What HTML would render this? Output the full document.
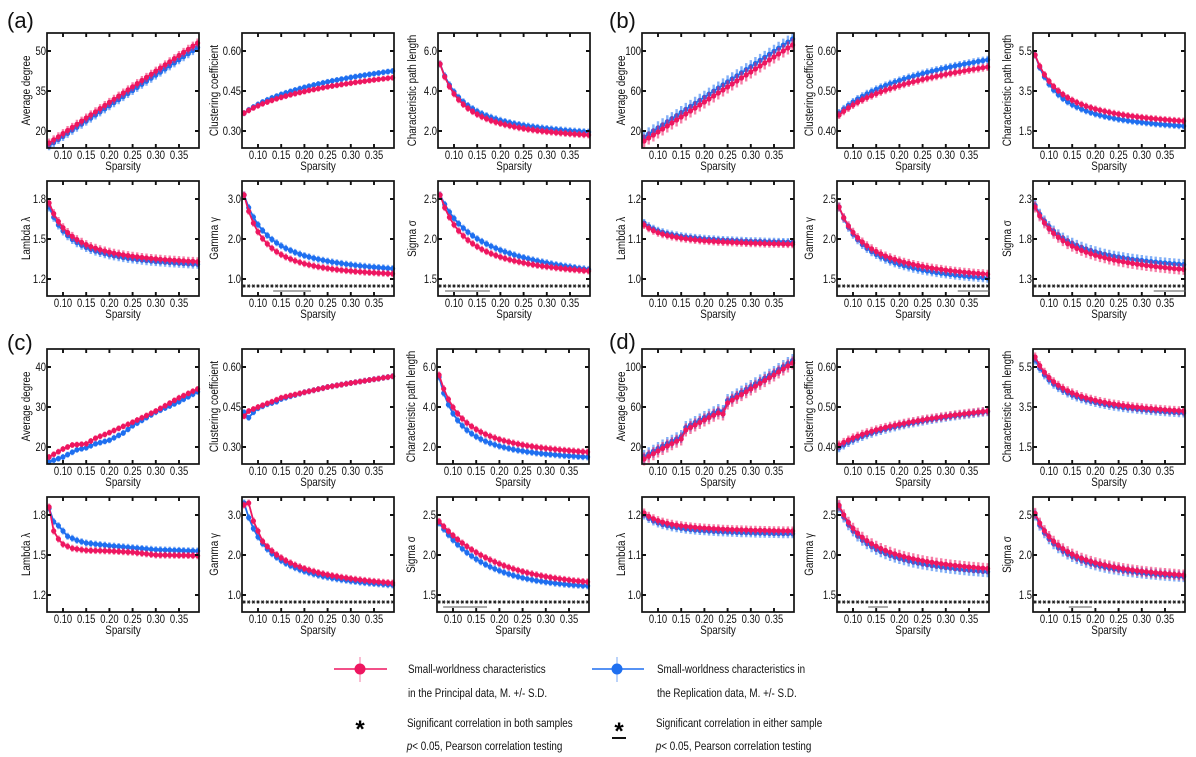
<!DOCTYPE html>
<html><head><meta charset="utf-8">
<style>
html,body{margin:0;padding:0;background:#fff}
svg{display:block}
text{font-family:"Liberation Sans",Arial,sans-serif;font-size:11.5px;fill:#111;transform-box:fill-box;transform:scaleX(.82)}
.c{text-anchor:middle;transform-origin:50% 50%}
.e{text-anchor:end;transform-origin:100% 50%}
.l{font-size:12px}
.s{transform-origin:0 50%;font-size:12px}
.n{font-size:22px;transform:none;fill:#111}
.st{font-size:24px;font-weight:bold;transform:none;text-anchor:middle;fill:#000}
</style></head>
<body>
<svg id="sv" width="1196" height="757" viewBox="0 0 1196 757" xmlns="http://www.w3.org/2000/svg">
<rect width="1196" height="757" fill="#fff"/>
<g id="geo"></g>

<text class="n" x="7" y="28">(a)</text>
<text class="n" x="609" y="28">(b)</text>
<text class="n" x="7" y="350">(c)</text>
<text class="n" x="609" y="349">(d)</text>

<!-- Panel a -->
<g transform="translate(47,33)">
<text class="e" x="-1" y="22">50</text><text class="e" x="-1" y="62">35</text><text class="e" x="-1" y="102">20</text>
<text class="c" x="16" y="126">0.10</text><text class="c" x="39.2" y="126">0.15</text><text class="c" x="62.4" y="126">0.20</text><text class="c" x="85.6" y="126">0.25</text><text class="c" x="108.8" y="126">0.30</text><text class="c" x="132" y="126">0.35</text>
<text class="c l" x="76" y="137">Sparsity</text>
<g transform="translate(-17,57.5) rotate(-90)"><text class="c l">Average degree</text></g>
</g>
<g transform="translate(242,33)">
<text class="e" x="-1" y="22">0.60</text><text class="e" x="-1" y="62">0.45</text><text class="e" x="-1" y="102">0.30</text>
<text class="c" x="16" y="126">0.10</text><text class="c" x="39.2" y="126">0.15</text><text class="c" x="62.4" y="126">0.20</text><text class="c" x="85.6" y="126">0.25</text><text class="c" x="108.8" y="126">0.30</text><text class="c" x="132" y="126">0.35</text>
<text class="c l" x="76" y="137">Sparsity</text>
<g transform="translate(-24,57.5) rotate(-90)"><text class="c l">Clustering coefficient</text></g>
</g>
<g transform="translate(438,33)">
<text class="e" x="-1" y="22">6.0</text><text class="e" x="-1" y="62">4.0</text><text class="e" x="-1" y="102">2.0</text>
<text class="c" x="16" y="126">0.10</text><text class="c" x="39.2" y="126">0.15</text><text class="c" x="62.4" y="126">0.20</text><text class="c" x="85.6" y="126">0.25</text><text class="c" x="108.8" y="126">0.30</text><text class="c" x="132" y="126">0.35</text>
<text class="c l" x="76" y="137">Sparsity</text>
<g transform="translate(-22,57.5) rotate(-90)"><text class="c l">Characteristic path length</text></g>
</g>
<g transform="translate(47,181)">
<text class="e" x="-1" y="22">1.8</text><text class="e" x="-1" y="62">1.5</text><text class="e" x="-1" y="102">1.2</text>
<text class="c" x="16" y="126">0.10</text><text class="c" x="39.2" y="126">0.15</text><text class="c" x="62.4" y="126">0.20</text><text class="c" x="85.6" y="126">0.25</text><text class="c" x="108.8" y="126">0.30</text><text class="c" x="132" y="126">0.35</text>
<text class="c l" x="76" y="137">Sparsity</text>
<g transform="translate(-17,57.5) rotate(-90)"><text class="c l">Lambda λ</text></g>
</g>
<g transform="translate(242,181)">
<text class="e" x="-1" y="22">3.0</text><text class="e" x="-1" y="62">2.0</text><text class="e" x="-1" y="102">1.0</text>
<text class="c" x="16" y="126">0.10</text><text class="c" x="39.2" y="126">0.15</text><text class="c" x="62.4" y="126">0.20</text><text class="c" x="85.6" y="126">0.25</text><text class="c" x="108.8" y="126">0.30</text><text class="c" x="132" y="126">0.35</text>
<text class="c l" x="76" y="137">Sparsity</text>
<g transform="translate(-24,57.5) rotate(-90)"><text class="c l">Gamma γ</text></g>
</g>
<g transform="translate(438,181)">
<text class="e" x="-1" y="22">2.5</text><text class="e" x="-1" y="62">2.0</text><text class="e" x="-1" y="102">1.5</text>
<text class="c" x="16" y="126">0.10</text><text class="c" x="39.2" y="126">0.15</text><text class="c" x="62.4" y="126">0.20</text><text class="c" x="85.6" y="126">0.25</text><text class="c" x="108.8" y="126">0.30</text><text class="c" x="132" y="126">0.35</text>
<text class="c l" x="76" y="137">Sparsity</text>
<g transform="translate(-22,57.5) rotate(-90)"><text class="c l">Sigma σ</text></g>
</g>

<!-- Panel b -->
<g transform="translate(642,33)">
<text class="e" x="-1" y="22">100</text><text class="e" x="-1" y="62">60</text><text class="e" x="-1" y="102">20</text>
<text class="c" x="16" y="126">0.10</text><text class="c" x="39.2" y="126">0.15</text><text class="c" x="62.4" y="126">0.20</text><text class="c" x="85.6" y="126">0.25</text><text class="c" x="108.8" y="126">0.30</text><text class="c" x="132" y="126">0.35</text>
<text class="c l" x="76" y="137">Sparsity</text>
<g transform="translate(-17,57.5) rotate(-90)"><text class="c l">Average degree</text></g>
</g>
<g transform="translate(837,33)">
<text class="e" x="-1" y="22">0.60</text><text class="e" x="-1" y="62">0.50</text><text class="e" x="-1" y="102">0.40</text>
<text class="c" x="16" y="126">0.10</text><text class="c" x="39.2" y="126">0.15</text><text class="c" x="62.4" y="126">0.20</text><text class="c" x="85.6" y="126">0.25</text><text class="c" x="108.8" y="126">0.30</text><text class="c" x="132" y="126">0.35</text>
<text class="c l" x="76" y="137">Sparsity</text>
<g transform="translate(-24,57.5) rotate(-90)"><text class="c l">Clustering coefficient</text></g>
</g>
<g transform="translate(1033,33)">
<text class="e" x="-1" y="22">5.5</text><text class="e" x="-1" y="62">3.5</text><text class="e" x="-1" y="102">1.5</text>
<text class="c" x="16" y="126">0.10</text><text class="c" x="39.2" y="126">0.15</text><text class="c" x="62.4" y="126">0.20</text><text class="c" x="85.6" y="126">0.25</text><text class="c" x="108.8" y="126">0.30</text><text class="c" x="132" y="126">0.35</text>
<text class="c l" x="76" y="137">Sparsity</text>
<g transform="translate(-22,57.5) rotate(-90)"><text class="c l">Characteristic path length</text></g>
</g>
<g transform="translate(642,181)">
<text class="e" x="-1" y="22">1.2</text><text class="e" x="-1" y="62">1.1</text><text class="e" x="-1" y="102">1.0</text>
<text class="c" x="16" y="126">0.10</text><text class="c" x="39.2" y="126">0.15</text><text class="c" x="62.4" y="126">0.20</text><text class="c" x="85.6" y="126">0.25</text><text class="c" x="108.8" y="126">0.30</text><text class="c" x="132" y="126">0.35</text>
<text class="c l" x="76" y="137">Sparsity</text>
<g transform="translate(-17,57.5) rotate(-90)"><text class="c l">Lambda λ</text></g>
</g>
<g transform="translate(837,181)">
<text class="e" x="-1" y="22">2.5</text><text class="e" x="-1" y="62">2.0</text><text class="e" x="-1" y="102">1.5</text>
<text class="c" x="16" y="126">0.10</text><text class="c" x="39.2" y="126">0.15</text><text class="c" x="62.4" y="126">0.20</text><text class="c" x="85.6" y="126">0.25</text><text class="c" x="108.8" y="126">0.30</text><text class="c" x="132" y="126">0.35</text>
<text class="c l" x="76" y="137">Sparsity</text>
<g transform="translate(-24,57.5) rotate(-90)"><text class="c l">Gamma γ</text></g>
</g>
<g transform="translate(1033,181)">
<text class="e" x="-1" y="22">2.3</text><text class="e" x="-1" y="62">1.8</text><text class="e" x="-1" y="102">1.3</text>
<text class="c" x="16" y="126">0.10</text><text class="c" x="39.2" y="126">0.15</text><text class="c" x="62.4" y="126">0.20</text><text class="c" x="85.6" y="126">0.25</text><text class="c" x="108.8" y="126">0.30</text><text class="c" x="132" y="126">0.35</text>
<text class="c l" x="76" y="137">Sparsity</text>
<g transform="translate(-22,57.5) rotate(-90)"><text class="c l">Sigma σ</text></g>
</g>

<!-- Panel c -->
<g transform="translate(47,349)">
<text class="e" x="-1" y="22">40</text><text class="e" x="-1" y="62">30</text><text class="e" x="-1" y="102">20</text>
<text class="c" x="16" y="126">0.10</text><text class="c" x="39.2" y="126">0.15</text><text class="c" x="62.4" y="126">0.20</text><text class="c" x="85.6" y="126">0.25</text><text class="c" x="108.8" y="126">0.30</text><text class="c" x="132" y="126">0.35</text>
<text class="c l" x="76" y="137">Sparsity</text>
<g transform="translate(-17,57.5) rotate(-90)"><text class="c l">Average degree</text></g>
</g>
<g transform="translate(242,349)">
<text class="e" x="-1" y="22">0.60</text><text class="e" x="-1" y="62">0.45</text><text class="e" x="-1" y="102">0.30</text>
<text class="c" x="16" y="126">0.10</text><text class="c" x="39.2" y="126">0.15</text><text class="c" x="62.4" y="126">0.20</text><text class="c" x="85.6" y="126">0.25</text><text class="c" x="108.8" y="126">0.30</text><text class="c" x="132" y="126">0.35</text>
<text class="c l" x="76" y="137">Sparsity</text>
<g transform="translate(-24,57.5) rotate(-90)"><text class="c l">Clustering coefficient</text></g>
</g>
<g transform="translate(437,349)">
<text class="e" x="-1" y="22">6.0</text><text class="e" x="-1" y="62">4.0</text><text class="e" x="-1" y="102">2.0</text>
<text class="c" x="16" y="126">0.10</text><text class="c" x="39.2" y="126">0.15</text><text class="c" x="62.4" y="126">0.20</text><text class="c" x="85.6" y="126">0.25</text><text class="c" x="108.8" y="126">0.30</text><text class="c" x="132" y="126">0.35</text>
<text class="c l" x="76" y="137">Sparsity</text>
<g transform="translate(-22,57.5) rotate(-90)"><text class="c l">Characteristic path length</text></g>
</g>
<g transform="translate(47,497)">
<text class="e" x="-1" y="22">1.8</text><text class="e" x="-1" y="62">1.5</text><text class="e" x="-1" y="102">1.2</text>
<text class="c" x="16" y="126">0.10</text><text class="c" x="39.2" y="126">0.15</text><text class="c" x="62.4" y="126">0.20</text><text class="c" x="85.6" y="126">0.25</text><text class="c" x="108.8" y="126">0.30</text><text class="c" x="132" y="126">0.35</text>
<text class="c l" x="76" y="137">Sparsity</text>
<g transform="translate(-17,57.5) rotate(-90)"><text class="c l">Lambda λ</text></g>
</g>
<g transform="translate(242,497)">
<text class="e" x="-1" y="22">3.0</text><text class="e" x="-1" y="62">2.0</text><text class="e" x="-1" y="102">1.0</text>
<text class="c" x="16" y="126">0.10</text><text class="c" x="39.2" y="126">0.15</text><text class="c" x="62.4" y="126">0.20</text><text class="c" x="85.6" y="126">0.25</text><text class="c" x="108.8" y="126">0.30</text><text class="c" x="132" y="126">0.35</text>
<text class="c l" x="76" y="137">Sparsity</text>
<g transform="translate(-24,57.5) rotate(-90)"><text class="c l">Gamma γ</text></g>
</g>
<g transform="translate(437,497)">
<text class="e" x="-1" y="22">2.5</text><text class="e" x="-1" y="62">2.0</text><text class="e" x="-1" y="102">1.5</text>
<text class="c" x="16" y="126">0.10</text><text class="c" x="39.2" y="126">0.15</text><text class="c" x="62.4" y="126">0.20</text><text class="c" x="85.6" y="126">0.25</text><text class="c" x="108.8" y="126">0.30</text><text class="c" x="132" y="126">0.35</text>
<text class="c l" x="76" y="137">Sparsity</text>
<g transform="translate(-22,57.5) rotate(-90)"><text class="c l">Sigma σ</text></g>
</g>

<!-- Panel d -->
<g transform="translate(642,349)">
<text class="e" x="-1" y="22">100</text><text class="e" x="-1" y="62">60</text><text class="e" x="-1" y="102">20</text>
<text class="c" x="16" y="126">0.10</text><text class="c" x="39.2" y="126">0.15</text><text class="c" x="62.4" y="126">0.20</text><text class="c" x="85.6" y="126">0.25</text><text class="c" x="108.8" y="126">0.30</text><text class="c" x="132" y="126">0.35</text>
<text class="c l" x="76" y="137">Sparsity</text>
<g transform="translate(-17,57.5) rotate(-90)"><text class="c l">Average degree</text></g>
</g>
<g transform="translate(837,349)">
<text class="e" x="-1" y="22">0.60</text><text class="e" x="-1" y="62">0.50</text><text class="e" x="-1" y="102">0.40</text>
<text class="c" x="16" y="126">0.10</text><text class="c" x="39.2" y="126">0.15</text><text class="c" x="62.4" y="126">0.20</text><text class="c" x="85.6" y="126">0.25</text><text class="c" x="108.8" y="126">0.30</text><text class="c" x="132" y="126">0.35</text>
<text class="c l" x="76" y="137">Sparsity</text>
<g transform="translate(-24,57.5) rotate(-90)"><text class="c l">Clustering coefficient</text></g>
</g>
<g transform="translate(1033,349)">
<text class="e" x="-1" y="22">5.5</text><text class="e" x="-1" y="62">3.5</text><text class="e" x="-1" y="102">1.5</text>
<text class="c" x="16" y="126">0.10</text><text class="c" x="39.2" y="126">0.15</text><text class="c" x="62.4" y="126">0.20</text><text class="c" x="85.6" y="126">0.25</text><text class="c" x="108.8" y="126">0.30</text><text class="c" x="132" y="126">0.35</text>
<text class="c l" x="76" y="137">Sparsity</text>
<g transform="translate(-22,57.5) rotate(-90)"><text class="c l">Characteristic path length</text></g>
</g>
<g transform="translate(642,497)">
<text class="e" x="-1" y="22">1.2</text><text class="e" x="-1" y="62">1.1</text><text class="e" x="-1" y="102">1.0</text>
<text class="c" x="16" y="126">0.10</text><text class="c" x="39.2" y="126">0.15</text><text class="c" x="62.4" y="126">0.20</text><text class="c" x="85.6" y="126">0.25</text><text class="c" x="108.8" y="126">0.30</text><text class="c" x="132" y="126">0.35</text>
<text class="c l" x="76" y="137">Sparsity</text>
<g transform="translate(-17,57.5) rotate(-90)"><text class="c l">Lambda λ</text></g>
</g>
<g transform="translate(837,497)">
<text class="e" x="-1" y="22">2.5</text><text class="e" x="-1" y="62">2.0</text><text class="e" x="-1" y="102">1.5</text>
<text class="c" x="16" y="126">0.10</text><text class="c" x="39.2" y="126">0.15</text><text class="c" x="62.4" y="126">0.20</text><text class="c" x="85.6" y="126">0.25</text><text class="c" x="108.8" y="126">0.30</text><text class="c" x="132" y="126">0.35</text>
<text class="c l" x="76" y="137">Sparsity</text>
<g transform="translate(-24,57.5) rotate(-90)"><text class="c l">Gamma γ</text></g>
</g>
<g transform="translate(1033,497)">
<text class="e" x="-1" y="22">2.5</text><text class="e" x="-1" y="62">2.0</text><text class="e" x="-1" y="102">1.5</text>
<text class="c" x="16" y="126">0.10</text><text class="c" x="39.2" y="126">0.15</text><text class="c" x="62.4" y="126">0.20</text><text class="c" x="85.6" y="126">0.25</text><text class="c" x="108.8" y="126">0.30</text><text class="c" x="132" y="126">0.35</text>
<text class="c l" x="76" y="137">Sparsity</text>
<g transform="translate(-22,57.5) rotate(-90)"><text class="c l">Sigma σ</text></g>
</g>

<!-- Legend -->
<line x1="360" y1="657" x2="360" y2="682" stroke="#f590b5" stroke-width="1.2"/>
<line x1="334" y1="669" x2="387" y2="669" stroke="#ee1660" stroke-width="1.6"/>
<circle cx="360" cy="669" r="5.5" fill="#ee1660"/>
<line x1="617" y1="657" x2="617" y2="682" stroke="#8db5f7" stroke-width="1.2"/>
<line x1="592" y1="669" x2="644" y2="669" stroke="#1e6ff0" stroke-width="1.6"/>
<circle cx="617" cy="669" r="5.5" fill="#1e6ff0"/>
<text class="s" x="408" y="673">Small-worldness characteristics</text>
<text class="s" x="408" y="697">in the Principal data, M. +/- S.D.</text>
<text class="s" x="657" y="673">Small-worldness characteristics in</text>
<text class="s" x="657" y="697">the Replication data, M. +/- S.D.</text>
<text class="st" x="360" y="737">*</text>
<text class="s" x="407" y="727">Significant correlation in both samples</text>
<text class="s" x="407" y="750"><tspan font-style="italic">p</tspan>&lt; 0.05, Pearson correlation testing</text>
<text class="st" x="619" y="739">*</text>
<rect x="612" y="737" width="14" height="2" fill="#111"/>
<text class="s" x="656" y="727">Significant correlation in either sample</text>
<text class="s" x="656" y="750"><tspan font-style="italic">p</tspan>&lt; 0.05, Pearson correlation testing</text>
</svg>

<script>
(function(){
var NS='http://www.w3.org/2000/svg',P='#ee1660',BL='#1e6ff0',R=Math.log(0.39/0.07);
function lin(a,b){return function(s){return a+(b-a)*(s-0.07)/0.32;};}
function lg(a,b){return function(s){return a+(b-a)*Math.log(s/0.07)/R;};}
function pw(a,b,c){var p=Math.log((a-c)/(b-c))/R;return function(s){return c+(a-c)*Math.pow(s/0.07,-p);};}
function ex(c,a,k){return function(s){return c+a*Math.exp(-k*(s-0.07));};}
function an(q){return function(s){for(var i=0;i<q.length-1;i++){if(s<=q[i+1][0]+1e-9){var t=(s-q[i][0])/(q[i+1][0]-q[i][0]);return q[i][1]+t*(q[i+1][1]-q[i][1]);}}return q[q.length-1][1];};}
var g=document.getElementById('geo');
function el(tag,a){var e=document.createElementNS(NS,tag);for(var k in a)e.setAttribute(k,a[k]);g.appendChild(e);return e;}
var D=[
 {L:47,T:33,t:[50,35,20],p:lin(15.5,53),b:lin(14.5,51.3),e:4},
 {L:242,T:33,t:[.6,.45,.3],p:lg(.367,.50),b:lg(.367,.525),e:2.5},
 {L:438,T:33,t:[6,4,2],p:pw(5.35,1.8,1.4),b:pw(5.35,1.95,1.5),e:3},
 {L:47,T:181,t:[1.8,1.5,1.2],p:pw(1.77,1.33,1.28),b:pw(1.74,1.31,1.26),e:4},
 {L:242,T:181,t:[3,2,1],p:pw(3.1,1.13,1),b:pw(3.1,1.26,1),e:3,st:1,ul:[.137,.21]},
 {L:438,T:181,t:[2.5,2,1.5],p:pw(2.55,1.6,1.45),b:pw(2.55,1.62,1.2),e:3,st:1,ul:[.085,.173]},

 {L:642,T:33,t:[100,60,20],p:lin(10,106),b:lin(14,112),e:6},
 {L:837,T:33,t:[.6,.5,.4],p:lg(.44,.56),b:lg(.445,.578),e:3.5},
 {L:1033,T:33,t:[5.5,3.5,1.5],p:pw(5.3,2.0,1.5),b:pw(5.3,1.75,1.3),e:3},
 {L:642,T:181,t:[1.2,1.1,1.0],p:pw(1.135,1.087,1.08),b:pw(1.14,1.092,1.085),e:3.5},
 {L:837,T:181,t:[2.5,2,1.5],p:pw(2.4,1.56,1.4),b:pw(2.4,1.51,1.35),e:4,st:1,ul:[.33,.39]},
 {L:1033,T:181,t:[2.3,1.8,1.3],p:pw(2.2,1.42,1.2),b:pw(2.22,1.48,1.3),e:5,st:1,ul:[.33,.39]},

 {L:47,T:349,t:[40,30,20],
  p:an([[.07,17.5],[.10,19.5],[.12,20.5],[.15,20.8],[.17,22.2],[.20,23.6],[.25,26.2],[.30,29],[.35,32.3],[.39,34.5]]),
  b:an([[.07,16.3],[.10,17.5],[.13,19.3],[.15,19.8],[.17,20.8],[.20,21.7],[.23,23.5],[.25,25.3],[.30,28.7],[.35,31.3],[.39,33.8]]),e:2.5},
 {L:242,T:349,t:[.6,.45,.3],
  p:an([[.07,.415],[.08,.435],[.10,.45],[.13,.47],[.15,.485],[.20,.505],[.25,.525],[.30,.54],[.39,.565]]),
  b:an([[.07,.43],[.08,.41],[.09,.43],[.10,.445],[.12,.46],[.14,.47],[.15,.48],[.20,.505],[.25,.525],[.30,.54],[.39,.565]]),e:2.5},
 {L:437,T:349,t:[6,4,2],p:pw(5.6,1.75,1.3),b:pw(5.5,1.5,1.2),e:3},
 {L:47,T:497,t:[1.8,1.5,1.2],
  p:an([[.07,1.86],[.08,1.68],[.09,1.62],[.10,1.58],[.12,1.55],[.15,1.535],[.20,1.53],[.25,1.52],[.30,1.50],[.39,1.495]]),
  b:an([[.07,1.85],[.08,1.75],[.09,1.72],[.10,1.68],[.11,1.64],[.13,1.61],[.15,1.59],[.20,1.57],[.25,1.555],[.30,1.54],[.39,1.53]]),e:3},
 {L:242,T:497,t:[3,2,1],
  p:an([[.07,3.25],[.08,3.3],[.09,2.85],[.10,2.6]].concat((function(){var f=pw(3.3,1.3,1),a=[];for(var i=11;i<=39;i++)a.push([i/100,f(i/100)]);return a;})())),
  b:pw(3.3,1.25,1),e:3,st:1},
 {L:437,T:497,t:[2.5,2,1.5],p:ex(1.6,.82,8),b:ex(1.58,.82,10),e:3,st:1,ul:[.083,.169]},

 {L:642,T:349,t:[100,60,20],
  p:an([[.07,8],[.10,16],[.12,21],[.15,28],[.16,37],[.20,47],[.23,54],[.24,53],[.25,64],[.30,78],[.35,92],[.39,104]]),
  b:an([[.07,10.5],[.10,18.5],[.12,23.5],[.15,30.5],[.16,39.5],[.20,49.5],[.23,56.5],[.24,55.5],[.25,66.5],[.30,80.5],[.35,94.5],[.39,106.5]]),e:6},
 {L:837,T:349,t:[.6,.5,.4],p:lg(.405,.49),b:lg(.398,.488),e:4},
 {L:1033,T:349,t:[5.5,3.5,1.5],p:pw(6.0,3.3,2.8),b:pw(5.85,3.2,2.7),e:4},
 {L:642,T:497,t:[1.2,1.1,1.0],p:pw(1.205,1.16,1.155),b:pw(1.2,1.153,1.148),e:4},
 {L:837,T:497,t:[2.5,2,1.5],p:pw(2.62,1.83,1.65),b:pw(2.6,1.79,1.62),e:5,st:1,ul:[.137,.171]},
 {L:1033,T:497,t:[2.5,2,1.5],p:pw(2.52,1.75,1.6),b:pw(2.5,1.73,1.6),e:5,st:1,ul:[.147,.188]}
];
D.forEach(function(d){
 var L=d.L,T=d.T,t=d.t,W=152,H=115;
 function X(s){return L+16+(s-0.10)*464;}
 function Y(v){return T+18+(t[0]-v)/(t[0]-t[1])*40;}
 [[d.b,BL],[d.p,P]].forEach(function(sc){
  var f=sc[0],c=sc[1],pts=[],bars='',dots='',r=2.6;
  for(var i=0;i<=32;i++){
   var s=0.07+0.01*i,x=X(s),y=Y(f(s));
   pts.push(x.toFixed(1)+','+y.toFixed(1));
   bars+='M'+x.toFixed(1)+','+(y-d.e-0.5).toFixed(1)+'V'+(y+d.e+0.5).toFixed(1);
   dots+='M'+(x-r).toFixed(1)+','+y.toFixed(1)+'a'+r+','+r+' 0 1,0 '+(2*r)+',0a'+r+','+r+' 0 1,0 '+(-2*r)+',0';
  }
  el('path',{d:bars,stroke:c,'stroke-width':2.4,'stroke-opacity':0.55,fill:'none'});
  el('polyline',{points:pts.join(' '),fill:'none',stroke:c,'stroke-width':1.8});
  el('path',{d:dots,fill:c});
 });
 el('rect',{x:L,y:T,width:W,height:H,fill:'none',stroke:'#111','stroke-width':1.7});
 var tk='';
 for(var k=0;k<6;k++){var x=L+16+23.2*k;tk+='M'+x+','+T+'v4M'+x+','+(T+H)+'v-4';}
 for(var k2=0;k2<3;k2++){var y=T+18+40*k2;tk+='M'+L+','+y+'h4M'+(L+W)+','+y+'h-4';}
 el('path',{d:tk,stroke:'#111','stroke-width':1.9,fill:'none'});
 if(d.st){
  var sp='',yy=T+H-10;
  for(var i=0;i<=32;i++){var xs=X(0.07+0.01*i);
   sp+='M'+(xs-1.7).toFixed(1)+','+yy+'h3.4M'+(xs-1).toFixed(1)+','+(yy-1.5)+'l2,3M'+(xs+1).toFixed(1)+','+(yy-1.5)+'l-2,3';}
  el('path',{d:sp,stroke:'#222','stroke-width':1,fill:'none'});
  if(d.ul){el('line',{x1:X(d.ul[0])-2,x2:X(d.ul[1])+2,y1:T+H-5,y2:T+H-5,stroke:'#555','stroke-width':1.1});}
 }
});
})();
</script>
</body></html>
